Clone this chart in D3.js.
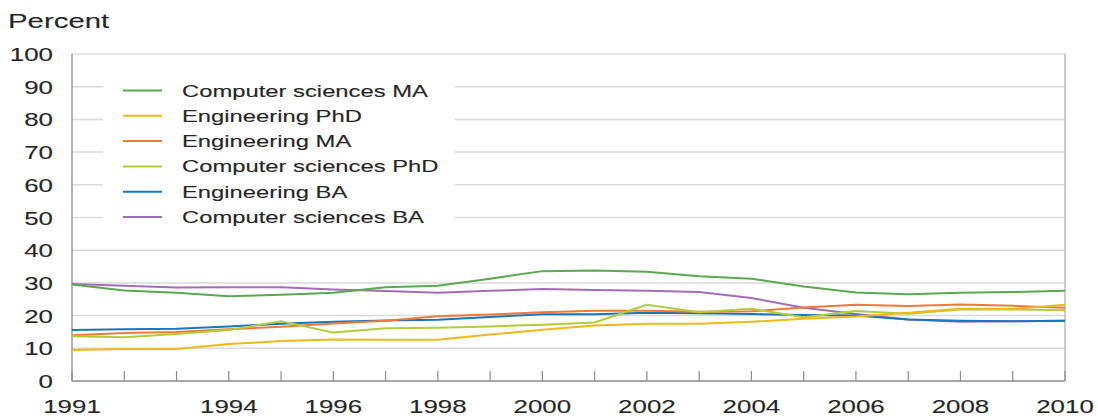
<!DOCTYPE html>
<html><head><meta charset="utf-8">
<script src="https://cdn.jsdelivr.net/npm/d3@7"></script>
<style>
html,body{margin:0;padding:0;background:#fff;}
text{font-family:"Liberation Sans",Arial,sans-serif;fill:#262626;stroke:#262626;stroke-width:0.12px;}
</style></head>
<body>
<svg id="chart" width="1098" height="419"></svg>
<script>
const years = [1991,1992,1993,1994,1995,1996,1997,1998,1999,2000,2001,2002,2003,2004,2005,2006,2007,2008,2009,2010];
const xTickLabels = [1991,1994,1996,1998,2000,2002,2004,2006,2008,2010];
const yTicks = [0,10,20,30,40,50,60,70,80,90,100];
const seriesNames = ["Computer sciences MA","Engineering PhD","Engineering MA","Computer sciences PhD","Engineering BA","Computer sciences BA"];
const seriesColors = ["#5aa84f","#f0b81a","#f07a35","#b3cc3a","#1676c0","#a56cb6"];
const csMA  = [29.5,27.7,27.0,25.9,26.4,27.0,28.7,29.1,31.3,33.6,33.8,33.4,32.0,31.3,28.9,27.1,26.5,27.0,27.2,27.6];
const engPhD= [9.5,9.8,9.8,11.3,12.2,12.7,12.6,12.6,14.2,15.7,17.0,17.5,17.5,18.1,19.0,19.7,20.9,22.1,22.0,23.3];
const engMA = [14.0,14.7,15.0,15.8,16.6,17.6,18.4,19.8,20.3,21.0,21.5,21.5,21.2,21.3,22.5,23.3,22.9,23.4,23.0,22.4];
const csPhD = [13.7,13.4,14.4,15.6,18.3,14.8,16.1,16.3,16.7,17.2,17.9,23.3,21.0,22.1,19.5,21.4,20.6,21.9,21.9,21.6];
const engBA = [15.6,15.8,16.0,16.7,17.5,18.1,18.5,18.7,19.6,20.4,20.4,20.9,20.7,20.5,20.2,20.0,18.8,18.4,18.3,18.4];
const csBA  = [29.7,29.1,28.6,28.7,28.7,28.0,27.5,27.0,27.6,28.1,27.8,27.6,27.2,25.4,22.4,20.5,18.8,18.1,18.3,18.4];
const seriesValues = [csMA, engPhD, engMA, csPhD, engBA, csBA];

const SX = 1.4;
const svg = d3.select("#chart");
const L = 72, R = 1065, T = 54, B = 381;
const x = d3.scaleLinear().domain([1991,2010]).range([L,R]);
const y = d3.scaleLinear().domain([0,100]).range([B,T]);

function stxt(g, tx, ty, str, size, anchor){
  return g.append("text")
    .attr("transform", `translate(${tx},${ty}) scale(${SX},1)`)
    .attr("font-size", size)
    .attr("text-anchor", anchor || "start")
    .text(str);
}

// gridlines
svg.append("g").selectAll("line").data(yTicks.filter(d=>d>0)).join("line")
  .attr("x1", L).attr("x2", R)
  .attr("y1", d=>y(d)).attr("y2", d=>y(d))
  .attr("stroke", "#d9d9d9").attr("stroke-width", 1.5);

// axes
const ax = svg.append("g");
ax.append("line").attr("x1",L).attr("x2",L).attr("y1",T).attr("y2",B).attr("stroke","#8c8c8c").attr("stroke-width",1.3);
ax.append("line").attr("x1",R).attr("x2",R).attr("y1",T).attr("y2",B).attr("stroke","#b0b0b0").attr("stroke-width",1.3);
ax.append("line").attr("x1",L).attr("x2",R).attr("y1",B).attr("y2",B).attr("stroke","#8c8c8c").attr("stroke-width",1.3);
ax.selectAll(".xt").data(years).join("line").attr("class","xt")
  .attr("x1",d=>x(d)).attr("x2",d=>x(d)).attr("y1",B).attr("y2",B-10)
  .attr("stroke","#8c8c8c").attr("stroke-width",1.2);

// y labels
yTicks.forEach(d => stxt(svg, 53, y(d)+7, String(d), 18.5, "end"));
// x labels
xTickLabels.forEach(d => stxt(svg, x(d), 413, String(d), 18.5, "middle"));
// y title
stxt(svg, 8, 28, "Percent", 21, "start");

// lines
const line = d3.line().x((d,i)=>x(years[i])).y(d=>y(d));
const order = [5,0,4,2,3,1];
order.forEach(k => {
  svg.append("path").datum(seriesValues[k])
    .attr("d", line).attr("fill","none")
    .attr("stroke", seriesColors[k]).attr("stroke-width", 2)
    .attr("stroke-linejoin","round");
});

// legend
const lg = svg.append("g");
lg.append("rect").attr("x",103).attr("y",76).attr("width",352).attr("height",153).attr("fill","#fff");
seriesNames.forEach((n,i) => {
  const cy = 90.5 + i*25.3;
  lg.append("line").attr("x1",123).attr("x2",162).attr("y1",cy).attr("y2",cy)
    .attr("stroke",seriesColors[i]).attr("stroke-width",2);
  stxt(lg, 182, cy+6, n, 17, "start");
});
</script>
</body></html>
